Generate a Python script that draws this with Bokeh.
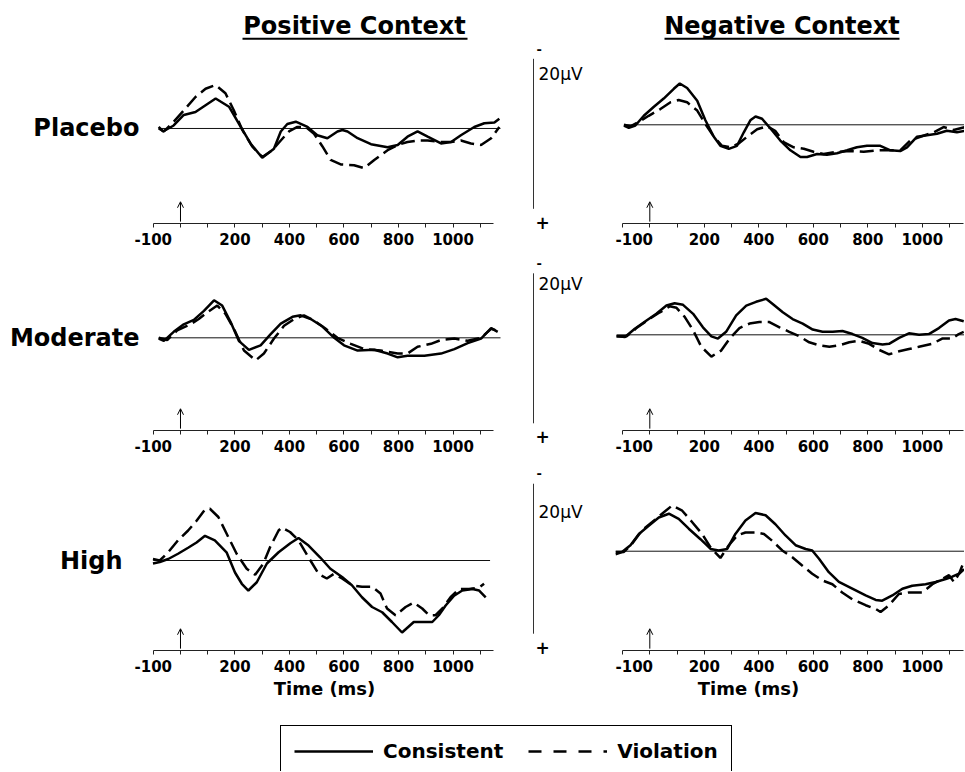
from bokeh.plotting import figure
from bokeh.layouts import column, row
from bokeh.models import Range1d, FixedTicker, LinearAxis, Arrow, OpenHead, Legend, LegendItem, Plot
from bokeh.core.properties import value
from bokeh.embed import file_html
from bokeh.resources import INLINE

FONT = "DejaVu Sans"

# ---------------- data ----------------
contexts = ["Positive Context", "Negative Context"]
doses = ["Placebo", "Moderate", "High"]
legend_labels = ["Consistent", "Violation"]
axis_title = "Time (ms)"
time_ticks = list(range(-100, 1101, 100))
time_tick_labels = {-100: "-100", 200: "200", 400: "400", 600: "600", 800: "800", 1000: "1000"}
scale_uv = 20
onset_ms = 0

# Positive context, Placebo
pos_placebo_cons_t = [-80, -64, -25, 12, 55, 129, 178, 221, 257, 300, 343, 368, 392, 423, 466, 502, 539, 576, 594, 613, 650, 699, 760, 797, 833, 870, 907, 956, 993, 1029, 1078, 1115, 1152, 1170]
pos_placebo_cons_v = [-0.2, 0.4, -0.4, -1.8, -2.2, -4.0, -2.9, -0.2, 2.0, 3.9, 2.7, 0.4, -0.6, -0.9, -0.2, 0.9, 1.3, 0.4, 0.2, 0.4, 1.3, 2.1, 2.5, 2.2, 1.1, 0.4, 1.1, 2.0, 1.8, 0.9, -0.2, -0.7, -0.8, -1.3]
pos_placebo_viol_t = [-80, -61, -25, 12, 55, 92, 129, 165, 196, 227, 263, 300, 337, 368, 398, 429, 460, 490, 521, 551, 588, 637, 674, 711, 760, 797, 833, 870, 907, 956, 993, 1029, 1066, 1103, 1140, 1170]
pos_placebo_viol_v = [0.0, 0.4, -0.9, -2.4, -4.2, -5.3, -5.8, -4.7, -2.4, 0.2, 2.4, 3.8, 2.9, 1.6, 0.4, -0.2, -0.2, 0.7, 2.4, 4.2, 4.8, 4.9, 5.3, 4.2, 2.9, 2.2, 1.8, 1.6, 1.6, 1.8, 1.8, 1.6, 2.0, 2.2, 1.3, -0.2]

# Negative context, Placebo
neg_placebo_cons_t = [-95, -77, -53, -22, 15, 51, 88, 110, 137, 174, 204, 235, 259, 290, 320, 345, 369, 388, 412, 443, 479, 516, 553, 577, 614, 650, 687, 724, 760, 797, 846, 883, 919, 944, 980, 1017, 1054, 1090, 1127, 1158]
neg_placebo_cons_v = [0.1, 0.4, 0.1, -1.2, -2.4, -3.5, -4.8, -5.5, -4.9, -3.2, -0.6, 1.6, 2.8, 3.2, 2.8, 1.0, -0.6, -1.1, -0.8, 0.5, 2.1, 3.4, 4.3, 4.3, 3.9, 4.0, 3.8, 3.4, 3.0, 2.8, 2.8, 3.4, 3.5, 3.0, 1.6, 1.4, 1.2, 0.8, 1.0, 0.8]
neg_placebo_viol_t = [-95, -71, -40, -4, 39, 76, 106, 137, 174, 204, 235, 265, 296, 326, 357, 394, 430, 460, 491, 528, 565, 601, 638, 687, 736, 785, 834, 883, 919, 956, 993, 1042, 1078, 1115, 1158]
neg_placebo_viol_v = [0.0, 0.2, -0.4, -1.2, -2.1, -3.0, -3.3, -3.0, -1.9, -0.1, 1.6, 2.8, 3.0, 2.5, 1.6, 0.6, 0.2, 0.8, 2.3, 3.0, 3.2, 3.6, 3.9, 3.6, 3.5, 3.6, 3.4, 3.4, 3.4, 2.1, 1.6, 1.0, 0.3, 0.7, 0.3]

# Positive context, Moderate
pos_moderate_cons_t = [-80, -61, -25, 12, 49, 86, 123, 153, 184, 214, 251, 294, 331, 368, 411, 441, 478, 521, 564, 600, 650, 711, 760, 797, 833, 895, 956, 1005, 1054, 1103, 1140, 1164]
pos_moderate_cons_v = [0.1, 0.4, -0.8, -1.8, -2.4, -3.6, -5.0, -4.3, -2.1, 0.4, 1.6, 1.0, -0.5, -1.9, -2.8, -3.0, -2.5, -1.5, 0.0, 1.0, 1.7, 1.6, 2.1, 2.6, 2.4, 2.4, 2.1, 1.5, 0.7, 0.1, -1.3, -0.8]
pos_moderate_viol_t = [-80, -49, -12, 37, 67, 98, 135, 165, 196, 233, 276, 306, 343, 380, 417, 453, 490, 533, 576, 625, 674, 735, 797, 833, 870, 919, 956, 1005, 1054, 1103, 1140, 1158]
pos_moderate_viol_v = [0.0, 0.3, -1.0, -1.8, -2.5, -3.4, -4.3, -3.2, -1.2, 1.7, 3.0, 2.1, 0.1, -1.6, -2.5, -3.0, -2.3, -1.2, 0.0, 0.8, 1.5, 1.7, 2.1, 2.1, 1.2, 0.8, 0.3, 0.1, 0.4, 0.0, -1.2, -1.0]

# Negative context, Moderate
neg_moderate_cons_t = [-122, -91, -55, -12, 24, 61, 91, 122, 159, 195, 226, 250, 280, 317, 354, 390, 427, 451, 488, 524, 561, 598, 634, 671, 707, 744, 780, 817, 854, 878, 915, 951, 988, 1024, 1061, 1098, 1122, 1152]
neg_moderate_cons_v = [0.2, 0.3, -0.8, -1.9, -2.8, -3.9, -4.2, -4.0, -2.8, -1.0, 0.2, 0.5, -0.4, -2.6, -3.9, -4.4, -4.8, -4.1, -3.0, -2.1, -1.5, -0.7, -0.4, -0.4, -0.5, -0.1, 0.4, 1.1, 1.3, 1.2, 0.4, -0.2, 0.0, -0.1, -0.9, -1.9, -2.1, -1.8]
neg_moderate_viol_t = [-122, -85, -49, -6, 37, 73, 98, 128, 159, 189, 226, 262, 293, 329, 366, 402, 439, 476, 512, 549, 585, 622, 659, 695, 732, 768, 805, 841, 878, 915, 951, 988, 1037, 1073, 1110, 1134, 1152]
neg_moderate_viol_v = [0.2, 0.2, -0.9, -2.0, -3.0, -3.8, -3.6, -2.4, -0.6, 1.6, 2.9, 2.1, 0.5, -0.9, -1.5, -1.7, -1.7, -1.0, -0.4, 0.2, 1.0, 1.4, 1.6, 1.4, 1.0, 0.8, 1.2, 2.0, 2.6, 2.2, 1.9, 1.6, 1.2, 0.5, 0.5, -0.1, -0.4]

# Positive context, High
pos_high_cons_t = [-101, -76, -45, -9, 28, 59, 90, 126, 169, 200, 225, 249, 280, 317, 360, 403, 433, 470, 513, 550, 593, 629, 666, 703, 740, 776, 813, 856, 887, 924, 948, 973, 1004, 1034, 1071, 1096, 1120]
pos_high_cons_v = [0.4, 0.2, -0.2, -0.9, -1.7, -2.4, -3.3, -2.7, -1.1, 1.6, 3.1, 4.0, 2.9, 0.4, -1.1, -2.3, -3.0, -2.0, -0.4, 1.1, 2.2, 3.3, 4.9, 6.2, 6.9, 8.2, 9.6, 8.2, 8.2, 8.2, 7.3, 6.0, 4.7, 4.0, 3.8, 4.0, 4.9]
pos_high_viol_t = [-101, -76, -45, -9, 28, 59, 90, 108, 139, 169, 206, 243, 274, 304, 329, 360, 372, 402, 433, 470, 507, 537, 562, 593, 629, 666, 703, 734, 758, 789, 826, 856, 887, 912, 936, 961, 991, 1022, 1059, 1096, 1114]
pos_high_viol_v = [-0.2, 0.0, -1.1, -2.7, -4.0, -5.3, -6.8, -6.9, -5.8, -3.6, -0.9, 1.1, 1.9, 0.4, -1.8, -4.0, -4.4, -3.8, -2.7, -0.4, 1.8, 2.4, 1.8, 2.4, 3.3, 3.5, 3.5, 4.4, 6.4, 7.3, 6.2, 5.6, 6.4, 7.3, 7.3, 6.4, 4.9, 3.8, 3.8, 3.6, 3.1]

# Negative context, High
neg_high_cons_t = [-126, -102, -71, -40, -4, 33, 70, 106, 143, 186, 223, 253, 284, 314, 351, 388, 425, 461, 498, 535, 572, 596, 621, 657, 694, 743, 792, 829, 853, 890, 927, 963, 1012, 1049, 1086, 1110, 1135, 1153]
neg_high_cons_v = [0.4, 0.1, -0.8, -2.3, -3.4, -4.5, -5.0, -4.3, -3.0, -1.6, -0.3, -0.1, -0.3, -2.3, -4.1, -5.1, -4.8, -3.6, -2.1, -0.8, -0.3, -0.1, 1.0, 2.8, 4.1, 5.0, 5.9, 6.5, 6.6, 5.9, 5.0, 4.6, 4.4, 4.1, 3.7, 3.4, 3.0, 2.4]
neg_high_viol_t = [-126, -95, -65, -28, 9, 45, 82, 119, 155, 192, 223, 259, 290, 321, 351, 388, 419, 449, 486, 523, 559, 596, 633, 670, 706, 743, 792, 829, 847, 878, 914, 951, 1000, 1037, 1073, 1098, 1116, 1135, 1147]
neg_high_viol_v = [0.1, 0.1, -1.0, -2.8, -3.9, -5.0, -6.1, -5.4, -3.9, -2.3, -0.5, 0.9, -0.8, -2.1, -2.5, -2.5, -2.3, -1.4, -0.1, 0.8, 1.9, 3.0, 3.9, 4.4, 5.5, 6.4, 7.2, 7.7, 8.1, 7.2, 5.7, 5.5, 5.5, 4.4, 3.7, 3.2, 4.1, 3.0, 1.9]

# extent of the zero line in each panel (ms)
baseline_pos = [(-80, 1190), (-80, 1180), (-100, 1136)]
baseline_neg = [(-95, 1200), (-122, 1200), (-126, 1200)]

pos_series = [
    (pos_placebo_cons_t, pos_placebo_cons_v, pos_placebo_viol_t, pos_placebo_viol_v),
    (pos_moderate_cons_t, pos_moderate_cons_v, pos_moderate_viol_t, pos_moderate_viol_v),
    (pos_high_cons_t, pos_high_cons_v, pos_high_viol_t, pos_high_viol_v),
]
neg_series = [
    (neg_placebo_cons_t, neg_placebo_cons_v, neg_placebo_viol_t, neg_placebo_viol_v),
    (neg_moderate_cons_t, neg_moderate_cons_v, neg_moderate_viol_t, neg_moderate_viol_v),
    (neg_high_cons_t, neg_high_cons_v, neg_high_viol_t, neg_high_viol_v),
]

# ---------------- layout / style ----------------
PX_PER_UV = 7.5
HEADER_H = 40
ROW_H = [214, 211, 212]
ROW_BB = [31, 35, 27]
# y ranges (bottom, top) in microvolts, negative up
YR_POS = [(12.67, -11.73), (12.36, -11.11), (12.0, -12.67)]
YR_NEG = [(13.16, -11.24), (12.76, -10.71), (13.24, -11.43)]
LABEL_STANDOFF = [9, 9, 26]
SB_TOP = [-8.8, -8.2, -9.0]
SB_LABEL_Y = [-6.84, -6.84, -5.2]
DASH = "14 6"
LW = 2.5
LEFT_W, SB_W, RIGHT_W = 530, 85, 349
LEFT_XR = (-117.4, 1174.3)
RIGHT_XR = (-125.9, 1154.9)
HAS_FRAME_ALIGN = "frame_align" in Plot.properties()


def style_xaxis(ax):
    ax.ticker = FixedTicker(ticks=time_ticks)
    ax.major_label_overrides = {t: time_tick_labels.get(t, "") for t in time_ticks}
    ax.bounds = (-100, 1150)
    ax.axis_line_color = "#222222"
    ax.axis_line_width = 1
    ax.major_tick_line_color = "#222222"
    ax.major_tick_out = 4
    ax.major_tick_in = 0
    ax.minor_tick_line_color = None
    ax.major_label_text_font = FONT
    ax.major_label_text_font_style = "bold"
    ax.major_label_text_font_size = "15px"
    ax.major_label_text_color = "black"
    ax.major_label_standoff = 5


def bare(width, height, xr, yr, **kw):
    p = figure(width=width, height=height, x_range=Range1d(*xr), y_range=Range1d(*yr),
               output_backend="svg", toolbar_location=None, title=None,
               x_axis_location=None, y_axis_location=None, outline_line_color=None, **kw)
    p.grid.visible = False
    if HAS_FRAME_ALIGN:
        p.frame_align = False
    return p


def draw_series(p, series, extent, ybot):
    tc, vc, tv, vv = series
    p.line(x=list(extent), y=[0, 0], line_color="#111111", line_width=1)
    p.line(tc, vc, line_color="black", line_width=LW)
    p.line(tv, vv, line_color="black", line_width=LW, line_dash=DASH)
    p.add_layout(Arrow(end=OpenHead(size=6, line_width=1, line_color="black"),
                       x_start=onset_ms, y_start=ybot - 0.25,
                       x_end=onset_ms, y_end=ybot - 2.9,
                       line_width=1, line_color="black"))


rows = []
for i, dose in enumerate(doses):
    yb, yt = YR_POS[i]
    pl = bare(LEFT_W, ROW_H[i], LEFT_XR, (yb, yt),
              min_border_left=148, min_border_right=30, min_border_top=0, min_border_bottom=ROW_BB[i])
    xa = LinearAxis()
    style_xaxis(xa)
    pl.add_layout(xa, "below")
    ya = LinearAxis(ticker=FixedTicker(ticks=[0]), major_label_overrides={0: dose},
                    axis_line_color=None, major_tick_line_color=None, minor_tick_line_color=None,
                    major_tick_out=0, major_tick_in=0,
                    major_label_text_font=FONT, major_label_text_font_style="bold",
                    major_label_text_font_size="24px", major_label_text_color="black",
                    major_label_standoff=LABEL_STANDOFF[i])
    pl.add_layout(ya, "left")
    draw_series(pl, pos_series[i], baseline_pos[i], yb)

    # scale bar column (same microvolt scale as the right panel, frame spans the full row)
    yb, yt = YR_NEG[i]
    sb = bare(SB_W, ROW_H[i], (0, SB_W), (yb + ROW_BB[i] / PX_PER_UV, yt), min_border=0)
    top = SB_TOP[i]
    sb.segment(x0=[3], y0=[top], x1=[3], y1=[top + scale_uv], line_color="#333333", line_width=1)
    sb.text(x=[6], y=[top - 1.3], text=["-"], text_font=value(FONT), text_font_style="bold",
            text_font_size="13px", text_baseline="middle", text_color="black")
    sb.text(x=[5], y=[top + scale_uv + 1.8], text=["+"], text_font=value(FONT), text_font_style="bold",
            text_font_size="17px", text_baseline="middle", text_color="black")
    sb.text(x=[8], y=[SB_LABEL_Y[i]], text=[f"{scale_uv}\u03bcV"], text_font=value(FONT),
            text_font_size="17px", text_baseline="middle", text_color="black")

    pr = bare(RIGHT_W, ROW_H[i], RIGHT_XR, (yb, yt),
              min_border_left=0, min_border_right=0, min_border_top=0, min_border_bottom=ROW_BB[i])
    xa = LinearAxis()
    style_xaxis(xa)
    pr.add_layout(xa, "below")
    draw_series(pr, neg_series[i], baseline_neg[i], yb)
    rows.append(row(pl, sb, pr))

# header with the two context titles
header = bare(964, HEADER_H, (0, 964), (0, HEADER_H), min_border=0)
header.text(x=[354, 781.5], y=[15, 15], text=contexts, text_font=value(FONT), text_font_style="bold",
            text_font_size="24px", text_align="center", text_baseline="middle", text_color="black")
header.segment(x0=[242, 664], y0=[1.7, 1.7], x1=[467, 899], y1=[1.7, 1.7], line_color="black", line_width=2)

# bottom: axis titles and legend
bottom = bare(964, 94, (0, 964), (0, 94), min_border=0)
bottom.text(x=[324, 748], y=[83, 83], text=[axis_title, axis_title], text_font=value(FONT),
            text_font_style="bold", text_font_size="18px", text_align="center",
            text_baseline="middle", text_color="black")
r1 = bottom.line(x=[-20, -10], y=[-20, -20], line_color="black", line_width=LW)
r2 = bottom.line(x=[-20, -10], y=[-20, -20], line_color="black", line_width=LW, line_dash="13 12")
legend = Legend(items=[LegendItem(label=legend_labels[0], renderers=[r1]),
                       LegendItem(label=legend_labels[1], renderers=[r2])],
                orientation="horizontal", location=(280, -6), glyph_width=79, glyph_height=20,
                label_standoff=10, spacing=25, padding=13, margin=0,
                border_line_color="black", border_line_width=1, border_line_alpha=1,
                label_text_font=FONT, label_text_font_style="bold", label_text_font_size="20px",
                label_text_color="black", background_fill_color="white", background_fill_alpha=1)
bottom.add_layout(legend)

layout = column(header, *rows, bottom)
open("out.html", "w").write(file_html(layout, INLINE))
